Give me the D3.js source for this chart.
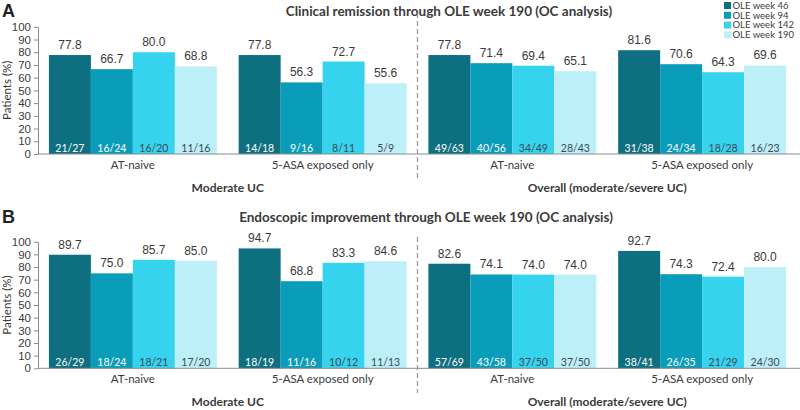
<!DOCTYPE html>
<html>
<head>
<meta charset="utf-8">
<script src="https://cdn.jsdelivr.net/npm/d3@7"></script>
<style>
  body { margin: 0; background: #fff; }
  svg { display: block; }
</style>
</head>
<body>
<div id="chart"></div>
<script>
// series + categories
var series = ["OLE week 46", "OLE week 94", "OLE week 142", "OLE week 190"];
var subgroups = ["AT-naive", "5-ASA exposed only", "AT-naive", "5-ASA exposed only"];
var populations = ["Moderate UC", "Overall (moderate/severe UC)"];
var yTicks = [0, 10, 20, 30, 40, 50, 60, 70, 80, 90, 100];

// panel A - clinical remission
var remissionValues = [
  [77.8, 66.7, 80.0, 68.8],
  [77.8, 56.3, 72.7, 55.6],
  [77.8, 71.4, 69.4, 65.1],
  [81.6, 70.6, 64.3, 69.6]
];
var remissionCounts = [
  ["21/27", "16/24", "16/20", "11/16"],
  ["14/18", "9/16", "8/11", "5/9"],
  ["49/63", "40/56", "34/49", "28/43"],
  ["31/38", "24/34", "18/28", "16/23"]
];

// panel B - endoscopic improvement
var endoValues = [
  [89.7, 75.0, 85.7, 85.0],
  [94.7, 68.8, 83.3, 84.6],
  [82.6, 74.1, 74.0, 74.0],
  [92.7, 74.3, 72.4, 80.0]
];
var endoCounts = [
  ["26/29", "18/24", "18/21", "17/20"],
  ["18/19", "11/16", "10/12", "11/13"],
  ["57/69", "43/58", "37/50", "37/50"],
  ["38/41", "26/35", "21/29", "24/30"]
];

var colors = ["#0d6f80", "#0a9db9", "#35d3ee", "#bdeff8"];
var countColors = ["#ffffff", "#ffffff", "#3b4a55", "#3b4a55"];
var textColor = "#3a3a3a";
var numFont = "'Liberation Sans', Arial, sans-serif";
var labelFont = "Lato, 'Liberation Sans', sans-serif";

var width = 800, height = 410;

var svg = d3.select("#chart")
  .append("svg")
  .attr("width", width)
  .attr("height", height);

var x = d3.scaleBand()
  .domain(d3.range(subgroups.length))
  .range([38, 797])
  .paddingInner(0.115)
  .paddingOuter(0.0575);

var xs = d3.scaleBand()
  .domain(series)
  .range([0, x.bandwidth()]);

var color = d3.scaleOrdinal().domain(series).range(colors);

function drawPanel(p) {
  var g = svg.append("g");
  var y = d3.scaleLinear().domain([0, 100]).range([p.y0, p.y100]);

  // panel letter + title
  g.append("text")
    .attr("x", 2).attr("y", p.titleY + 6)
    .style("font-family", numFont).style("font-weight", "bold")
    .style("font-size", "18px").style("fill", "#222")
    .text(p.letter);

  g.append("text")
    .attr("x", p.titleX).attr("y", p.titleY + 5)
    .attr("text-anchor", "middle")
    .style("font-family", labelFont).style("font-weight", "bold")
    .style("font-size", "13.5px").style("fill", textColor)
    .text(p.title);

  // y axis
  var yAxis = g.append("g")
    .attr("transform", "translate(38,0)")
    .call(d3.axisLeft(y).tickValues(yTicks).tickSize(4).tickSizeOuter(0).tickPadding(3));
  yAxis.select(".domain").style("stroke", "#8a8a8a");
  yAxis.selectAll(".tick line").style("stroke", "#8a8a8a");
  yAxis.selectAll(".tick text")
    .style("font-family", numFont).style("font-size", "11.5px").style("fill", textColor);

  g.append("text")
    .attr("transform", "translate(11," + ((p.y0 + p.y100) / 2) + ") rotate(-90)")
    .attr("text-anchor", "middle")
    .style("font-family", labelFont).style("font-size", "11.5px").style("fill", textColor)
    .text("Patients (%)");

  // bars
  var groups = g.selectAll(".grp")
    .data(p.values)
    .enter().append("g")
    .attr("class", "grp")
    .attr("transform", function(d, i) { return "translate(" + x(i) + ",0)"; });

  var cells = groups.selectAll(".cell")
    .data(function(d, i) {
      return d.map(function(v, j) { return { s: series[j], v: v, n: p.counts[i][j], j: j }; });
    })
    .enter().append("g")
    .attr("class", "cell");

  cells.append("rect")
    .attr("x", function(d) { return xs(d.s); })
    .attr("y", function(d) { return y(d.v); })
    .attr("width", xs.bandwidth())
    .attr("height", function(d) { return y(0) - y(d.v); })
    .style("fill", function(d) { return color(d.s); });

  cells.append("text")
    .attr("x", function(d) { return xs(d.s) + xs.bandwidth() / 2; })
    .attr("y", function(d) { return y(d.v) - 6; })
    .attr("text-anchor", "middle")
    .style("font-family", numFont).style("font-size", "12px").style("fill", textColor)
    .text(function(d) { return d.v.toFixed(1); });

  cells.append("text")
    .attr("x", function(d) { return xs(d.s) + xs.bandwidth() / 2; })
    .attr("y", y(0) - 2)
    .attr("text-anchor", "middle")
    .style("font-family", labelFont).style("font-size", "10.5px")
    .style("fill", function(d) { return countColors[d.j]; })
    .text(function(d) { return d.n; });

  // x axis line
  g.append("line")
    .attr("x1", 38).attr("x2", 800)
    .attr("y1", y(0)).attr("y2", y(0))
    .style("stroke", "#8a8a8a");

  // subgroup labels
  g.selectAll(".sub")
    .data(subgroups)
    .enter().append("text")
    .attr("x", function(d, i) { return x(i) + x.bandwidth() / 2; })
    .attr("y", y(0) + 15)
    .attr("text-anchor", "middle")
    .style("font-family", labelFont).style("font-size", "11.5px").style("fill", textColor)
    .text(function(d) { return d; });

  // population labels
  g.selectAll(".pop")
    .data(populations)
    .enter().append("text")
    .attr("x", function(d, i) { return (x(i * 2) + x(i * 2 + 1) + x.bandwidth()) / 2; })
    .attr("y", p.popY)
    .attr("text-anchor", "middle")
    .style("font-family", labelFont).style("font-weight", "bold")
    .style("font-size", "12px").style("fill", textColor)
    .text(function(d) { return d; });

  // divider between populations
  var divX = (x(1) + x.bandwidth() + x(2)) / 2;
  g.append("line")
    .attr("x1", divX).attr("x2", divX)
    .attr("y1", p.divTop).attr("y2", p.divBottom)
    .style("stroke", "#9a9a9a")
    .style("stroke-width", 1.3)
    .style("stroke-dasharray", "5,3");
}

drawPanel({
  letter: "A",
  title: "Clinical remission through OLE week 190 (OC analysis)",
  titleX: 449, titleY: 11,
  y0: 154, y100: 26.8,
  popY: 192,
  divTop: 13, divBottom: 178,
  values: remissionValues, counts: remissionCounts
});

drawPanel({
  letter: "B",
  title: "Endoscopic improvement through OLE week 190 (OC analysis)",
  titleX: 426, titleY: 217,
  y0: 368.3, y100: 241.7,
  popY: 406,
  divTop: 237, divBottom: 393,
  values: endoValues, counts: endoCounts
});

// legend
var legend = svg.append("g")
  .selectAll(".leg")
  .data(series)
  .enter().append("g")
  .attr("class", "leg")
  .attr("transform", function(d, i) { return "translate(724," + (5.5 + i * 9.8) + ")"; });

legend.append("rect")
  .attr("x", 0).attr("y", -3.5)
  .attr("width", 7).attr("height", 7)
  .style("fill", function(d) { return color(d); });

legend.append("text")
  .attr("x", 8.5).attr("y", 3.3)
  .style("font-family", labelFont).style("font-size", "9.5px").style("fill", textColor)
  .text(function(d) { return d; });
</script>
</body>
</html>
